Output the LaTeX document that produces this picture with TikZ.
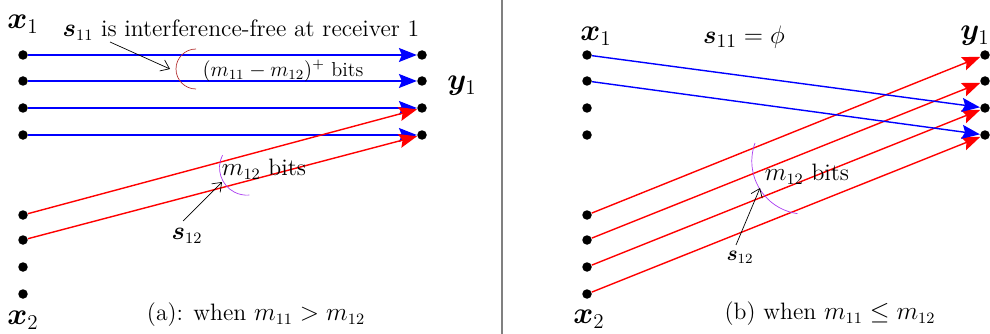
\documentclass[tikz,border=0pt]{standalone}
\usepackage{amsmath,amssymb,bm}
\usetikzlibrary{arrows.meta}
\definecolor{arcbrown}{RGB}{180,50,50}
\definecolor{arcviolet}{RGB}{170,60,240}
\tikzset{
  dot/.style={circle,fill=black,inner sep=0pt,minimum size=1.9mm},
  flow/.style={thick,-{Stealth[length=3.6mm,width=2.8mm,inset=0.6mm]}},
  note/.style={thin,-{Straight Barb[length=1.6mm,width=2.4mm]}},
  small/.style={font=\fontsize{11.5}{14}\selectfont},
  lab/.style={font=\fontsize{16.5}{19}\selectfont},
}
\begin{document}
\begin{tikzpicture}[x=0.2mm,y=-0.2mm,font=\fontsize{13.5}{16}\selectfont]
\useasboundingbox (0,0) rectangle (990,334);
\draw[gray,line width=0.8pt] (502,0) -- (502,334);

% (a): m11 > m12
\foreach \i/\y in {1/55,2/81,3/108,4/135} {
  \node[dot] (ax\i) at (23,\y) {};
  \node[dot] (ay\i) at (422,\y) {};
}
\foreach \i/\y in {1/215,2/240,3/267,4/294}
  \node[dot] (az\i) at (23,\y) {};
\node[lab] (axl) at (23,24) {$\bm{x}_1$};
\node[lab] (ayl) at (462,86) {$\bm{y}_1$};
\node[lab] (azl) at (23,320) {$\bm{x}_2$};

\foreach \i in {1,...,4}
  \draw[flow,blue] (ax\i) -- (ay\i);
\draw[flow,red] (az1) -- (ay3);
\draw[flow,red] (az2) -- (ay4);

\node (asi) at (241,30) {$\bm{s}_{11}$ is interference-free at receiver 1};
\coordinate (asa) at (110,42);
\coordinate (asb) at (170,69);
\draw[note] (asa) -- (asb);
\draw[arcbrown] (196,49) arc[start angle=90,end angle=270,radius=0.4cm];
\node[small] (abits) at (283,71) {$(m_{11}-m_{12})^+$ bits};

\draw[arcviolet] (222.5,155.2) arc[start angle=153,end angle=275,radius=0.55cm];
\node (am) at (264,169) {$m_{12}$ bits};
\node (asc) at (187,236) {$\bm{s}_{12}$};
\coordinate (aca) at (183,221);
\coordinate (acb) at (222,182);
\draw[note] (aca) -- (acb);
\node (acap) at (256,315) {(a): when $m_{11}>m_{12}$};

% (b): m11 <= m12
\foreach \i/\y in {1/55,2/81,3/108,4/135} {
  \node[dot] (bx\i) at (587,\y) {};
  \node[dot] (by\i) at (985,\y) {};
}
\foreach \i/\y in {1/215,2/240,3/267,4/294}
  \node[dot] (bz\i) at (587,\y) {};
\node[lab] (bxl) at (596,36) {$\bm{x}_1$};
\node[lab] (byl) at (975,36) {$\bm{y}_1$};
\node[lab] (bzl) at (589,319) {$\bm{x}_2$};

\foreach \i in {1,...,4}
  \draw[flow,red] (bz\i) -- (by\i);
\draw[flow,blue] (bx1) -- (by3);
\draw[flow,blue] (bx2) -- (by4);

\node[font=\fontsize{15}{18}\selectfont] (bsi) at (744,37) {$\bm{s}_{11}=\phi$};
\draw[arcviolet] (755,143) arc[start angle=160,end angle=262,radius=1.06cm];
\node (bm) at (807,174) {$m_{12}$ bits};
\node[small] (bsc) at (740,257) {$\bm{s}_{12}$};
\coordinate (bca) at (736,245);
\coordinate (bcb) at (760,188);
\draw[note] (bca) -- (bcb);
\node (bcap) at (830,314) {(b) when $m_{11}\le m_{12}$};
\end{tikzpicture}
\end{document}
